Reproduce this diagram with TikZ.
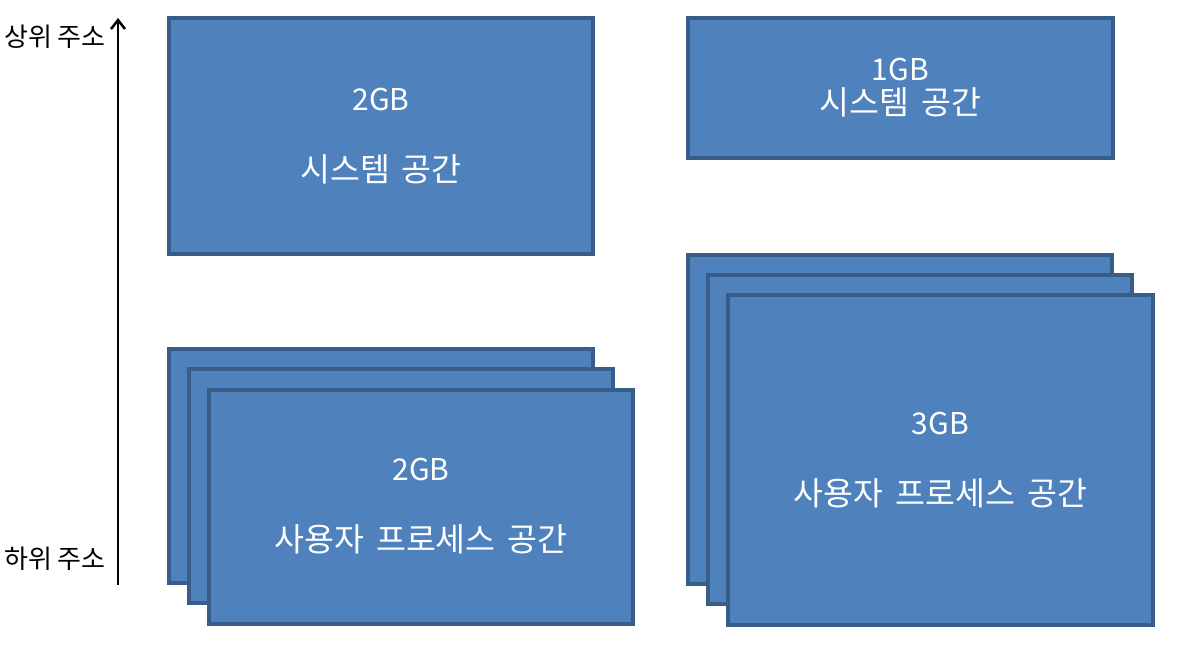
\documentclass[tikz,border=0pt]{standalone}
\usepackage{fontspec}
\setmainfont{Noto Sans CJK KR}
\usetikzlibrary{arrows.meta}
\usetikzlibrary{shadows}
\usetikzlibrary{positioning}

\definecolor{boxfill}{HTML}{4F81BD}
\definecolor{boxline}{HTML}{385D8A}
\newcommand\memfont{\fontsize{30}{34}\selectfont\spaceskip=12pt\relax}
\newcommand\kor[1]{{\fontsize{32.5}{34}\selectfont\spaceskip=12pt\relax #1}}

\tikzset{
  membox/.style={draw=boxline, fill=boxfill, line width=4pt, text=white,
    align=center, font=\memfont, inner sep=0pt,
    minimum width=424pt,
    drop shadow={opacity=0.25, shadow xshift=2pt, shadow yshift=-2pt}},
  addrlabel/.style={anchor=east, font=\fontsize{26}{30}\selectfont, inner sep=0pt},
}

\begin{document}
\begin{tikzpicture}[x=1pt, y=-1pt]
    \useasboundingbox (0,0) rectangle (1179,645);
    % left: 2GB / 2GB
    \node[membox, minimum height=236pt] (sysl) at (381,136) {2GB\\[37pt]\kor{시스템 공간}};
    \node[membox, minimum height=234pt] (userl1) at (381,466) {};
    \node[membox, minimum height=234pt] (userl2) at (401,486) {};
    \node[membox, minimum height=234pt] (userl3) at (421,506.5) {2GB\\[37pt]\kor{사용자 프로세스 공간}};
    % right: 1GB / 3GB
    \node[membox, minimum width=425pt, minimum height=140pt] (sysr) at (900.5,88) {1GB\\\kor{시스템 공간}};
    \node[membox, minimum height=329pt] (userr1) at (900,419.5) {};
    \node[membox, minimum height=329pt] (userr2) at (920,439.5) {};
    \node[membox, minimum width=425pt, minimum height=330pt] (userr3) at (940.5,460) {3GB\\[37pt]\kor{사용자 프로세스 공간}};
    % address axis
    \coordinate (low) at (118,585);
    \coordinate (high) at (118,18);
    \draw[line width=2.5pt, -{Straight Barb[length=9pt, width=14pt, line width=2.5pt]}] (low) -- (high);
    \node[addrlabel] (hiaddr) at (106,37) {상위 주소};
    \node[addrlabel] (loaddr) at (106,559) {하위 주소};
\end{tikzpicture}
\end{document}
